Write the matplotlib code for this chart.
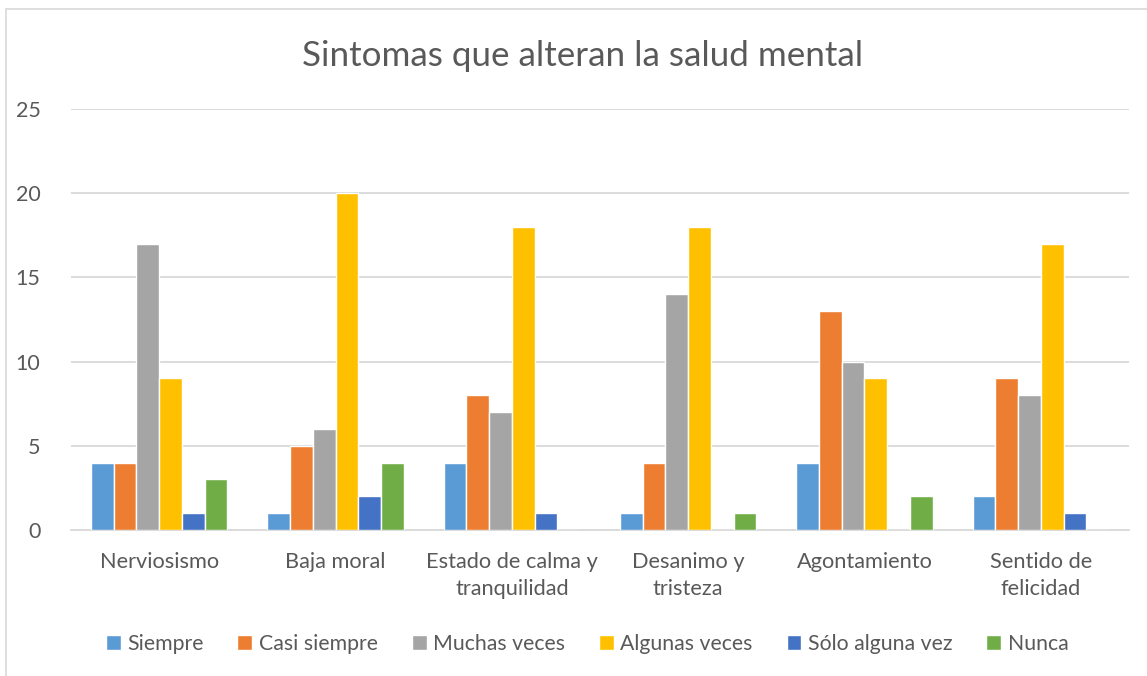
import matplotlib
matplotlib.use("Agg")
import matplotlib.pyplot as plt
import numpy as np
from matplotlib.patches import Rectangle

categories = ["Nerviosismo", "Baja moral", "Estado de calma y\ntranquilidad",
              "Desanimo y\ntristeza", "Agontamiento", "Sentido de\nfelicidad"]
series_names = ["Siempre", "Casi siempre", "Muchas veces", "Algunas veces",
                "Sólo alguna vez", "Nunca"]
siempre = [4, 1, 4, 1, 4, 2]
casi_siempre = [4, 5, 8, 4, 13, 9]
muchas_veces = [17, 6, 7, 14, 10, 8]
algunas_veces = [9, 20, 18, 18, 9, 17]
solo_alguna_vez = [1, 2, 1, 0, 0, 1]
nunca = [3, 4, 0, 1, 2, 0]
colors = ["#5B9BD5", "#ED7D31", "#A5A5A5", "#FFC000", "#4472C4", "#70AD47"]
title = "Sintomas que alteran la salud mental"
yticks = [0, 5, 10, 15, 20, 25]

series = [siempre, casi_siempre, muchas_veces, algunas_veces, solo_alguna_vez, nunca]

plt.rcParams['font.family'] = ['Lato', 'DejaVu Sans']
txt = "#595959"

W, H = 1147, 676
fig = plt.figure(figsize=(W / 100, H / 100), dpi=100)
fig.patches.append(Rectangle((6 / W, -0.1), 1.2, 1 - 9 / H + 0.1, transform=fig.transFigure,
                             fill=False, edgecolor="#D9D9D9", linewidth=1.2))

ax = fig.add_axes([71 / W, 1 - 530 / H, (1129 - 71) / W, (530 - 109) / H])
x = np.arange(len(categories))
n = len(series)
bw = 0.129
for i, (vals, c, name) in enumerate(zip(series, colors, series_names)):
    ax.bar(x + (i - (n - 1) / 2) * bw, vals, width=bw, color=c, label=name,
           edgecolor="white", linewidth=1.0, zorder=3)

ax.set_xlim(-0.5, len(categories) - 0.5)
ax.set_ylim(0, 25)
ax.set_yticks(yticks)
ax.set_xticks(x)
ax.set_xticklabels(categories, fontsize=15.7, color=txt, linespacing=1.45)
ax.tick_params(axis="y", labelsize=15.5, labelcolor=txt, length=0, pad=22)
ax.tick_params(axis="x", length=0, pad=16)
ax.grid(axis="y", color="#D9D9D9", linewidth=1.3, zorder=0)
for s in ["top", "right", "left"]:
    ax.spines[s].set_visible(False)
ax.spines["bottom"].set_color("#D9D9D9")
ax.spines["bottom"].set_linewidth(1.3)

fig.text(583 / W, 1 - 56 / H, title, ha="center", va="center", fontsize=25.2, color=txt)

leg = fig.legend(loc="center", bbox_to_anchor=(587 / W, 1 - 644 / H), ncol=6, frameon=False,
                 fontsize=15.3, labelcolor=txt, handlelength=0.7, handleheight=0.7,
                 handletextpad=0.3, columnspacing=1.6)

fig.savefig("out.png", dpi=100)
